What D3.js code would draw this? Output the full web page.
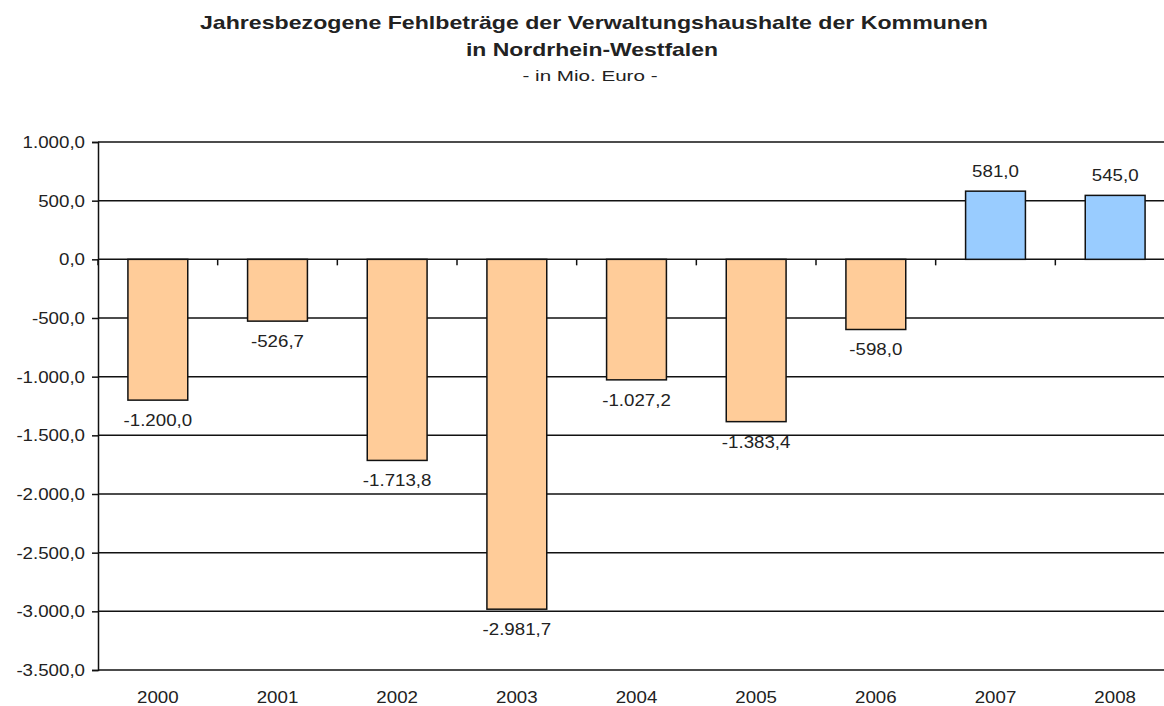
<!DOCTYPE html>
<html>
<head>
<meta charset="utf-8">
<script src="https://cdn.jsdelivr.net/npm/d3@7"></script>
<style>
  body { margin: 0; background: #fff; }
  text { font-family: "Liberation Sans", Arial, sans-serif; fill: #222; }
</style>
</head>
<body>
<script>
// data
var years = ["2000", "2001", "2002", "2003", "2004", "2005", "2006", "2007", "2008"];
var values = [-1200.0, -526.7, -1713.8, -2981.7, -1027.2, -1383.4, -598.0, 581.0, 545.0];
var yTicks = [1000, 500, 0, -500, -1000, -1500, -2000, -2500, -3000, -3500];

var W = 1164, H = 706;
var plotL = 98, plotR = 1175, plotT = 142, plotB = 670;

// german number format, plain hyphen as minus
var de = d3.formatLocale({decimal: ",", thousands: ".", grouping: [3], currency: ["", " €"], minus: "-"});
var fmt = de.format(",.1f");

var svg = d3.select("body")
            .append("svg")
            .attr("width", W)
            .attr("height", H);

var x = d3.scaleBand()
          .domain(years)
          .range([plotL, plotR])
          .paddingInner(0.5)
          .paddingOuter(0.25);

var y = d3.scaleLinear()
          .domain([-3500, 1000])
          .range([plotB, plotT]);

// titles (widths fitted to the original)
var title = svg.append("g");
title.append("text")
     .attr("x", 594).attr("y", 29)
     .attr("text-anchor", "middle")
     .attr("textLength", 788).attr("lengthAdjust", "spacingAndGlyphs")
     .style("font-weight", "bold").style("font-size", "19px")
     .text("Jahresbezogene Fehlbeträge der Verwaltungshaushalte der Kommunen");
title.append("text")
     .attr("x", 592).attr("y", 56)
     .attr("text-anchor", "middle")
     .attr("textLength", 252).attr("lengthAdjust", "spacingAndGlyphs")
     .style("font-weight", "bold").style("font-size", "19px")
     .text("in Nordrhein-Westfalen");
title.append("text")
     .attr("x", 590).attr("y", 81)
     .attr("text-anchor", "middle")
     .attr("textLength", 135).attr("lengthAdjust", "spacingAndGlyphs")
     .style("font-size", "14px")
     .text("- in Mio. Euro -");

// gridlines
svg.append("g")
   .selectAll("line")
   .data(yTicks)
   .enter()
   .append("line")
   .attr("x1", plotL).attr("x2", plotR)
   .attr("y1", function(d) { return y(d); })
   .attr("y2", function(d) { return y(d); })
   .attr("stroke", "#111")
   .attr("stroke-width", 1.5);

// y axis
var yAxis = svg.append("g")
   .attr("transform", "translate(" + plotL + ",0)")
   .call(d3.axisLeft(y).tickValues(yTicks).tickFormat(fmt).tickSize(6).tickPadding(7));
yAxis.select(".domain").attr("stroke", "#111").attr("stroke-width", 1.5);
yAxis.selectAll(".tick line").attr("stroke", "#111").attr("stroke-width", 1.5);
yAxis.selectAll(".tick text")
     .style("font-size", "17px").style("font-family", "Liberation Sans, Arial, sans-serif")
     .attr("fill", "#222");

// bars
svg.selectAll(".bar")
   .data(values)
   .enter()
   .append("rect")
   .attr("class", "bar")
   .attr("x", function(d, i) { return x(years[i]); })
   .attr("width", x.bandwidth())
   .attr("y", function(d) { return y(Math.max(0, d)); })
   .attr("height", function(d) { return Math.abs(y(d) - y(0)); })
   .attr("fill", function(d) { return d < 0 ? "#FFCC99" : "#99CCFF"; })
   .attr("stroke", "#111")
   .attr("stroke-width", 1.5);

// category ticks on the zero line
var step = x.step();
svg.append("g")
   .selectAll("line")
   .data(d3.range(years.length + 1))
   .enter()
   .append("line")
   .attr("x1", function(i) { return plotL + i * step; })
   .attr("x2", function(i) { return plotL + i * step; })
   .attr("y1", y(0)).attr("y2", y(0) + 6)
   .attr("stroke", "#111").attr("stroke-width", 1.5);

// year labels
svg.append("g")
   .selectAll("text")
   .data(years)
   .enter()
   .append("text")
   .attr("class", "stretch")
   .attr("x", function(d) { return x(d) + x.bandwidth() / 2; })
   .attr("y", 703)
   .attr("text-anchor", "middle")
   .style("font-size", "17px")
   .text(function(d) { return d; });

// value labels
svg.append("g")
   .selectAll("text")
   .data(values)
   .enter()
   .append("text")
   .attr("class", "stretch")
   .attr("x", function(d, i) { return x(years[i]) + x.bandwidth() / 2; })
   .attr("y", function(d) { return d < 0 ? y(d) + 26 : y(d) - 14; })
   .attr("text-anchor", "middle")
   .style("font-size", "17px")
   .text(function(d) { return fmt(d); });

yAxis.selectAll(".tick text").classed("stretch", true);

// widen glyphs slightly like the original picture
svg.selectAll("text.stretch").each(function() {
    var len = this.getComputedTextLength();
    if (len > 0) {
        d3.select(this).attr("textLength", len * 1.1).attr("lengthAdjust", "spacingAndGlyphs");
    }
});
</script>
</body>
</html>
